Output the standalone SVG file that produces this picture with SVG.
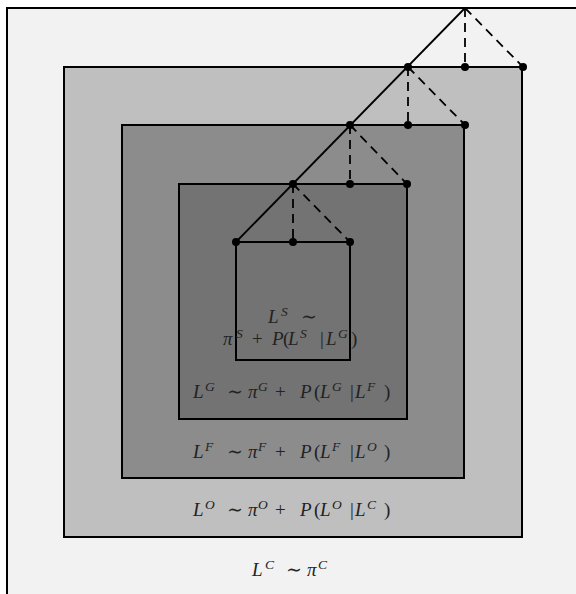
<svg xmlns="http://www.w3.org/2000/svg" width="576" height="594" viewBox="0 0 576 594">
<style>
.box{stroke:#000;stroke-width:2}
.solid{stroke:#000;stroke-width:1.8;fill:none}
.dash{stroke:#000;stroke-width:1.8;fill:none;stroke-dasharray:9,6}
.dot{fill:#000}
text{font-family:"Liberation Serif","DejaVu Serif",serif;font-size:19px;fill:#222}
.i{font-style:italic}
.sup{font-size:13.5px;font-style:italic}
</style>
<rect width="576" height="594" fill="#ffffff"/>
<g id="nodeC"><rect class="box" x="7" y="8" width="580" height="600" fill="#f2f2f2"/>
<text><tspan class="i" x="252" y="576">L</tspan><tspan class="sup" x="265" y="569">C</tspan><tspan x="286" y="576">∼</tspan><tspan class="i" x="307" y="576">π</tspan><tspan class="sup" x="318" y="569">C</tspan></text></g>
<g id="nodeO"><rect class="box" x="64" y="67" width="458" height="470" fill="#bfbfbf"/>
<text><tspan class="i" x="193" y="516">L</tspan><tspan class="sup" x="205" y="509">O</tspan><tspan x="227" y="516">∼</tspan><tspan class="i" x="248" y="516">π</tspan><tspan class="sup" x="258" y="509">O</tspan><tspan x="275" y="516">+</tspan><tspan class="i" x="300" y="516">P</tspan><tspan x="314" y="516">(</tspan><tspan class="i" x="320" y="516">L</tspan><tspan class="sup" x="332" y="509">O</tspan><tspan x="350" y="516">|</tspan><tspan class="i" x="355" y="516">L</tspan><tspan class="sup" x="367" y="509">C</tspan><tspan x="384" y="516">)</tspan></text></g>
<g id="nodeF"><rect class="box" x="122" y="125" width="342" height="353" fill="#8c8c8c"/>
<text><tspan class="i" x="193" y="458">L</tspan><tspan class="sup" x="205" y="451">F</tspan><tspan x="227" y="458">∼</tspan><tspan class="i" x="248" y="458">π</tspan><tspan class="sup" x="258" y="451">F</tspan><tspan x="275" y="458">+</tspan><tspan class="i" x="300" y="458">P</tspan><tspan x="314" y="458">(</tspan><tspan class="i" x="320" y="458">L</tspan><tspan class="sup" x="332" y="451">F</tspan><tspan x="350" y="458">|</tspan><tspan class="i" x="355" y="458">L</tspan><tspan class="sup" x="367" y="451">O</tspan><tspan x="384" y="458">)</tspan></text></g>
<g id="nodeG"><rect class="box" x="179" y="184" width="228" height="235" fill="#737373"/>
<text><tspan class="i" x="193" y="398">L</tspan><tspan class="sup" x="205" y="391">G</tspan><tspan x="227" y="398">∼</tspan><tspan class="i" x="248" y="398">π</tspan><tspan class="sup" x="258" y="391">G</tspan><tspan x="275" y="398">+</tspan><tspan class="i" x="300" y="398">P</tspan><tspan x="314" y="398">(</tspan><tspan class="i" x="320" y="398">L</tspan><tspan class="sup" x="332" y="391">G</tspan><tspan x="350" y="398">|</tspan><tspan class="i" x="355" y="398">L</tspan><tspan class="sup" x="367" y="391">F</tspan><tspan x="384" y="398">)</tspan></text></g>
<g id="nodeS"><rect class="box" x="236" y="242" width="114" height="118" fill="#737373"/>
<text><tspan class="i" x="268" y="323">L</tspan><tspan class="sup" x="281" y="316">S</tspan><tspan x="301" y="323">∼</tspan></text>
<text><tspan class="i" x="223" y="345">π</tspan><tspan class="sup" x="236" y="338">S</tspan><tspan x="252" y="345">+</tspan><tspan class="i" x="272" y="345">P</tspan><tspan x="283" y="345">(</tspan><tspan class="i" x="288" y="345">L</tspan><tspan class="sup" x="300" y="338">S</tspan><tspan x="320" y="345">|</tspan><tspan class="i" x="326" y="345">L</tspan><tspan class="sup" x="338" y="338">G</tspan><tspan x="351" y="345">)</tspan></text></g>
<g id="connectors">
<line class="solid" x1="236" y1="242" x2="465" y2="8"/>
<line class="dash" x1="465" y1="8" x2="465" y2="67"/>
<line class="dash" x1="408" y1="67" x2="408" y2="125"/>
<line class="dash" x1="350" y1="125" x2="350" y2="184"/>
<line class="dash" x1="293" y1="184" x2="293" y2="242"/>
<line class="dash" x1="465" y1="8" x2="523" y2="67"/>
<line class="dash" x1="408" y1="67" x2="465" y2="125"/>
<line class="dash" x1="350" y1="125" x2="407" y2="184"/>
<line class="dash" x1="293" y1="184" x2="350" y2="242"/>
<circle class="dot" cx="408" cy="67" r="4"/><circle class="dot" cx="465" cy="67" r="4"/><circle class="dot" cx="523" cy="67" r="4"/>
<circle class="dot" cx="350" cy="125" r="4"/><circle class="dot" cx="408" cy="125" r="4"/><circle class="dot" cx="465" cy="125" r="4"/>
<circle class="dot" cx="293" cy="184" r="4"/><circle class="dot" cx="350" cy="184" r="4"/><circle class="dot" cx="407" cy="184" r="4"/>
<circle class="dot" cx="236" cy="242" r="4"/><circle class="dot" cx="293" cy="242" r="4"/><circle class="dot" cx="350" cy="242" r="4"/>
</g>
</svg>
